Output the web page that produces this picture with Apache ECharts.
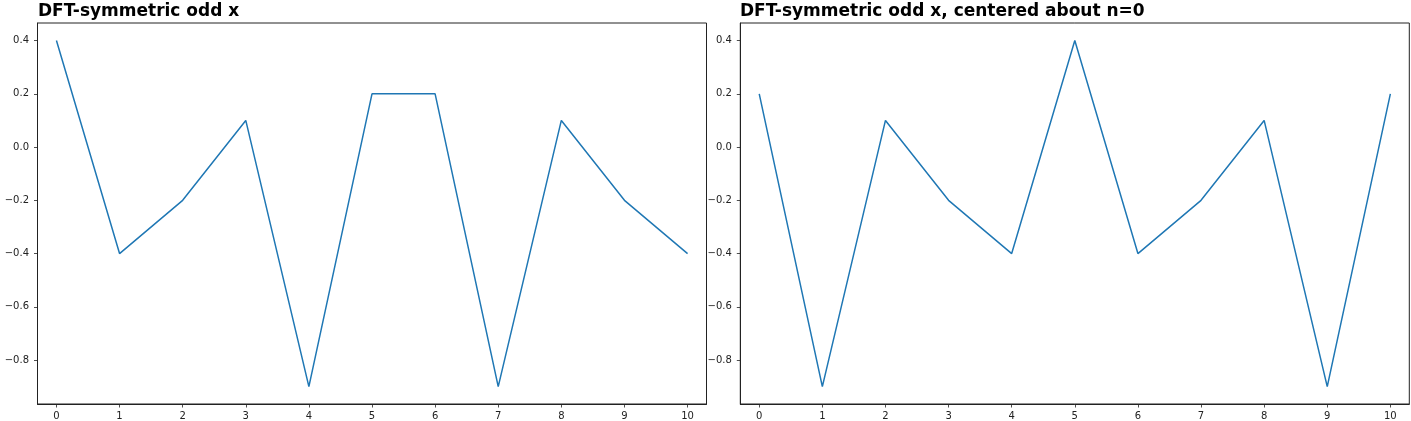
<!DOCTYPE html>
<html><head><meta charset="utf-8">
<script src="https://cdn.jsdelivr.net/npm/echarts@6/dist/echarts.min.js"></script>
<style>html,body{margin:0;padding:0;background:#fff}#c{width:1411px;height:421px}</style>
</head><body><div id="c"></div>
<script>
const titles = ["DFT-symmetric odd x", "DFT-symmetric odd x, centered about n=0"];
const nValues = [0,1,2,3,4,5,6,7,8,9,10];
const seriesLeft = [0.4, -0.4, -0.2, 0.1, -0.9, 0.2, 0.2, -0.9, 0.1, -0.2, -0.4];
const seriesRight = [0.2, -0.9, 0.1, -0.2, -0.4, 0.4, -0.4, -0.2, 0.1, -0.9, 0.2];
const yTicks = [-0.8, -0.6, -0.4, -0.2, 0.0, 0.2, 0.4];
const xTicks = [0,1,2,3,4,5,6,7,8,9,10];

const chart = echarts.init(document.getElementById('c'), null, {renderer:'canvas'});
const font = 'DejaVu Sans';
function fmtY(v){ const s = Math.abs(v).toFixed(1); return (v < -1e-9 ? '\u2212' : '') + s; }
const grids = [
  {left:37.5, top:23, width:669, height:381},
  {left:740.3, top:23, width:669, height:381}
];
function xAxis(i){
  return {type:'value', gridIndex:i, min:-0.3, max:10.3,
    axisLine:{show:true, onZero:false, lineStyle:{color:'#222', width:1}},
    axisTick:{show:true, length:3.5, customValues:xTicks, lineStyle:{color:'#222', width:0.8}},
    axisLabel:{show:true, customValues:xTicks, margin:7, fontFamily:font, fontSize:10, color:'#222'},
    splitLine:{show:false}};
}
function yAxis(i){
  return {type:'value', gridIndex:i, min:-0.965, max:0.466,
    axisLine:{show:true, onZero:false, lineStyle:{color:'#222', width:1}},
    axisTick:{show:true, length:3.5, customValues:yTicks, lineStyle:{color:'#222', width:0.8}},
    axisLabel:{show:true, customValues:yTicks, margin:8.5, fontFamily:font, fontSize:10, color:'#222', formatter:fmtY},
    splitLine:{show:false}};
}
function mk(vals){ return nValues.map((n,k)=>[n, vals[k]]); }
chart.setOption({
  animation:false,
  title: titles.map((t,i)=>({text:t, left: i===0 ? 38 : 740, top:3, padding:0,
    textStyle:{fontFamily:font, fontSize:17, fontWeight:'bold', color:'#000'}})),
  grid: grids.map(g=>Object.assign({show:true, borderColor:'#222', borderWidth:1, backgroundColor:'#fff'}, g)),
  xAxis:[xAxis(0), xAxis(1)],
  yAxis:[yAxis(0), yAxis(1)],
  series:[
    {type:'line', xAxisIndex:0, yAxisIndex:0, data:mk(seriesLeft), showSymbol:false, symbol:'none',
     lineStyle:{color:'#1f77b4', width:1.5}, itemStyle:{color:'#1f77b4'}},
    {type:'line', xAxisIndex:1, yAxisIndex:1, data:mk(seriesRight), showSymbol:false, symbol:'none',
     lineStyle:{color:'#1f77b4', width:1.5}, itemStyle:{color:'#1f77b4'}}
  ]
});
</script></body></html>
